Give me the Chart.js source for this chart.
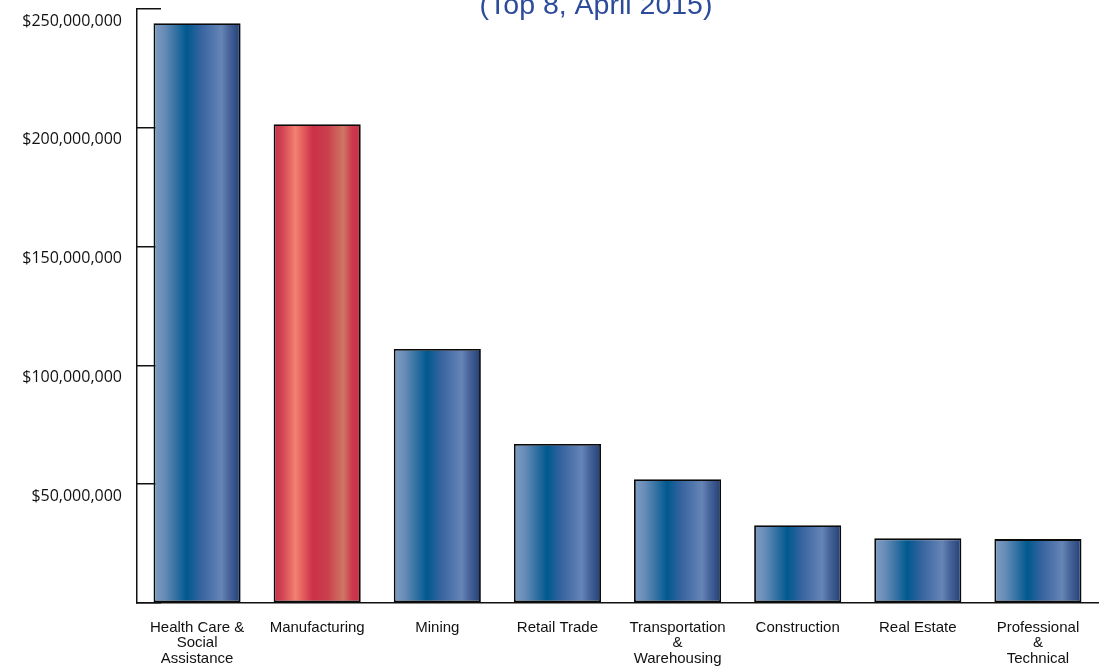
<!DOCTYPE html>
<html>
<head>
<meta charset="utf-8">
<script src="https://cdn.jsdelivr.net/npm/chart.js@4/dist/chart.umd.min.js"></script>
<style>
  html, body { margin: 0; padding: 0; background: #fff; }
  #wrap { width: 1110px; height: 667px; }
</style>
</head>
<body>
<div id="wrap"><canvas id="chart" width="1110" height="667"></canvas></div>
<script>
const categories = [
    ['Health Care &', 'Social', 'Assistance'],
    'Manufacturing',
    'Mining',
    'Retail Trade',
    ['Transportation', '&', 'Warehousing'],
    'Construction',
    'Real Estate',
    ['Professional', '&', 'Technical']
];
const values = [244000000, 201500000, 106900000, 66900000, 52100000, 32700000, 27200000, 26900000];
const highlighted = [false, true, false, false, false, false, false, false];
const yTicks = [0, 50000000, 100000000, 150000000, 200000000, 250000000];
const titleLine = '(Top 8, April 2015)';

const blueStops = [
    [0, '#7d9ec2'], [0.12, '#6a8db8'], [0.38, '#00598f'], [0.55, '#3864a0'],
    [0.78, '#6685b6'], [0.86, '#4a679d'], [1, '#213f76']
];
const redStops = [
    [0, '#c4314a'], [0.1, '#d24452'], [0.25, '#f3816f'], [0.45, '#cc3047'],
    [0.62, '#c9404d'], [0.8, '#d07664'], [0.9, '#cc3a4c'], [1, '#c8304a']
];

function barFill(ctx) {
    const chart = ctx.chart;
    const xs = chart.scales.x;
    const fallback = highlighted[ctx.dataIndex] ? '#cc3047' : '#3864a0';
    if (!xs || ctx.dataIndex === undefined) return fallback;
    const cx = xs.getPixelForValue(ctx.dataIndex);
    const w = xs.width / categories.length * 0.725;
    if (!isFinite(cx) || !isFinite(w) || w <= 0) return fallback;
    const g = chart.ctx.createLinearGradient(cx - w / 2, 0, cx + w / 2, 0);
    const stops = highlighted[ctx.dataIndex] ? redStops : blueStops;
    stops.forEach(s => g.addColorStop(s[0], s[1]));
    return g;
}

const topTitle = {
    id: 'topTitle',
    afterDraw(chart) {
        const c = chart.ctx;
        c.save();
        c.font = '28.5px "Liberation Sans", Arial, sans-serif';
        c.fillStyle = '#2d4b9b';
        c.textAlign = 'center';
        c.textBaseline = 'alphabetic';
        c.fillText(titleLine, 596, 14);
        c.restore();
    }
};

const ctx = document.getElementById('chart').getContext('2d');
const chart = new Chart(ctx, {
    type: 'bar',
    data: {
        labels: categories,
        datasets: [{
            data: values,
            backgroundColor: barFill,
            borderColor: '#0a0a0a',
            borderWidth: 1.8,
            borderSkipped: false,
            categoryPercentage: 1,
            barPercentage: 0.725
        }]
    },
    options: {
        responsive: false,
        animation: false,
        layout: { padding: { top: 9, right: 12, bottom: 0, left: 0 } },
        plugins: {
            legend: { display: false },
            title: { display: false },
            tooltip: { enabled: false }
        },
        scales: {
            x: {
                grid: { display: false, drawTicks: false },
                border: { display: true, color: '#111', width: 1.5 },
                ticks: {
                    color: '#111',
                    padding: 17,
                    maxRotation: 0,
                    autoSkip: false,
                    font: { family: '"Liberation Sans", Arial, sans-serif', size: 15, lineHeight: 1.03 }
                },
                afterFit: scale => {
                    scale.height = 64;
                    scale.paddingLeft = 0;
                    scale.paddingRight = 0;
                }
            },
            y: {
                min: 0,
                max: 250000000,
                afterBuildTicks: scale => { scale.ticks = yTicks.map(v => ({ value: v })); },
                grid: { drawOnChartArea: false, drawTicks: true, tickLength: -24, color: '#111', lineWidth: 1.5 },
                border: { display: true, color: '#111', width: 1.5 },
                ticks: {
                    color: '#111',
                    padding: 39,
                    labelOffset: 12,
                    font: { family: '"Open Sans", sans-serif', size: 16 },
                    callback: v => v === 0 ? '' : '$' + v.toLocaleString('en-US')
                },
                afterFit: scale => {
                    scale.width = 137;
                    scale.paddingTop = 0;
                    scale.paddingBottom = 0;
                }
            }
        }
    },
    plugins: [topTitle]
});
</script>
</body>
</html>
